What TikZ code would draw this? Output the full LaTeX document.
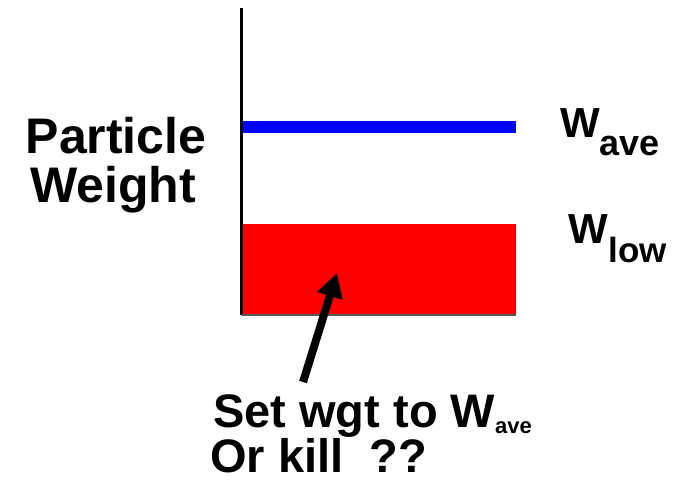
\documentclass[tikz,border=0pt]{standalone}
\usepackage{fontspec}
\setmainfont{Liberation Sans}
\usetikzlibrary{arrows.meta}
\newcommand{\lowsub}[3]{\raisebox{-#2}{\fontsize{#1}{#1}\selectfont #3}}

\begin{document}
\begin{tikzpicture}[x=1pt,y=-1pt,
    txt/.style={inner sep=0pt, anchor=base west, font=\bfseries}]
  \useasboundingbox (0,0) rectangle (681,485);
  % axis, bars
  \draw[line width=2.5pt] (241.5,8) -- (241.5,315);
  \fill[red] (242.5,223.5) rectangle (516,314.5);
  \draw[gray!70!black, line width=1.5pt] (241,315) -- (516,315);
  \draw[blue, line width=12pt] (242.5,127) -- (516,127);
  % labels
  \node[txt, anchor=base] (particle) at (116,153) {\fontsize{50}{50}\selectfont Particle};
  \node[txt, anchor=base] (weight) at (113,202) {\fontsize{50}{50}\selectfont Weight};
  \node[txt] (wave) at (560,137) {\fontsize{42}{42}\selectfont W\lowsub{36pt}{18pt}{ave}};
  \node[txt] (wlow) at (568,243) {\fontsize{42}{42}\selectfont W\hspace{1pt}\lowsub{35pt}{19pt}{low}};
  \node[txt] (setwgt) at (213,427) {\fontsize{47}{47}\selectfont Set wgt to W\lowsub{22pt}{6pt}{ave}};
  \node[txt] (orkill) at (210,472) {\fontsize{47}{47}\selectfont Or kill\hspace{26pt}??};
  % arrow into the low bar
  \coordinate (tail) at (303,382);
  \coordinate (tip) at (337,273);
  \draw[line width=8pt, -{Triangle[length=24pt,width=25pt]}] (tail) -- (tip);
\end{tikzpicture}
\end{document}
